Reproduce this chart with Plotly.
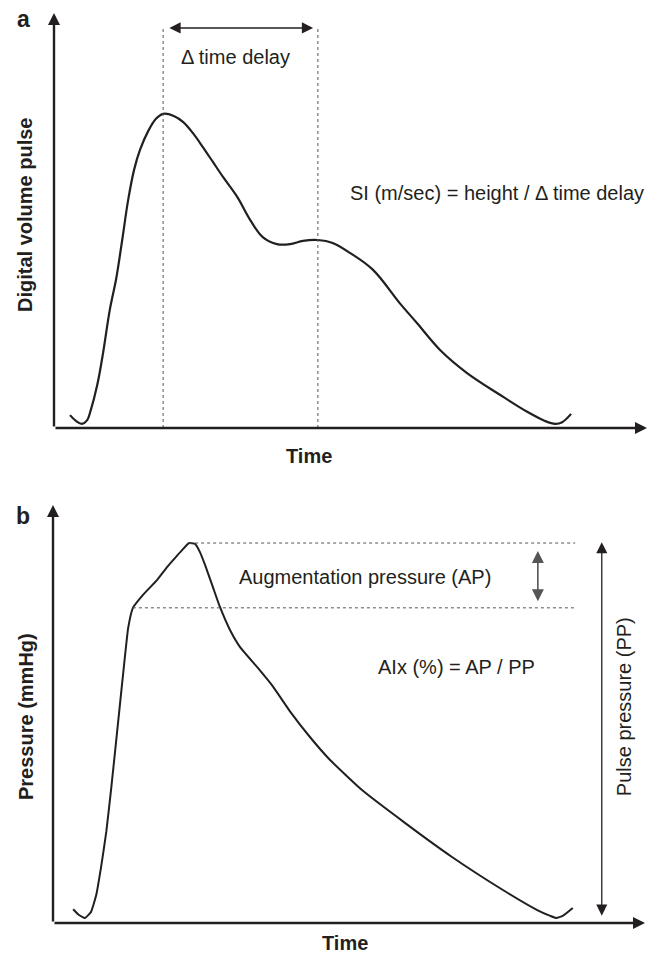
import plotly.graph_objects as go

# ---------------- data ----------------
# Panel a: digital volume pulse (time as fraction of axis, amplitude as fraction of axis)
dvp_time = [0.027, 0.037, 0.047, 0.056, 0.062, 0.073, 0.083, 0.094, 0.105, 0.115,
            0.125, 0.135, 0.145, 0.159, 0.172, 0.184, 0.202, 0.218, 0.234, 0.251,
            0.268, 0.285, 0.309, 0.331, 0.352, 0.376, 0.398, 0.420, 0.445, 0.470,
            0.499, 0.538, 0.583, 0.612, 0.651, 0.696, 0.752, 0.798, 0.828, 0.845,
            0.857, 0.872]
dvp_value = [0.031, 0.017, 0.010, 0.019, 0.043, 0.104, 0.183, 0.284, 0.361, 0.453,
             0.549, 0.622, 0.670, 0.716, 0.745, 0.757, 0.752, 0.737, 0.711, 0.677,
             0.641, 0.605, 0.557, 0.501, 0.460, 0.443, 0.443, 0.451, 0.453, 0.446,
             0.422, 0.381, 0.301, 0.253, 0.188, 0.133, 0.080, 0.039, 0.017, 0.010,
             0.014, 0.034]
dvp_first_peak_t = 0.184
dvp_second_peak_t = 0.445

# Panel b: pressure waveform
pw_time = [0.034, 0.044, 0.054, 0.064, 0.073, 0.081, 0.090, 0.098, 0.106, 0.113,
           0.120, 0.127, 0.135, 0.152, 0.176, 0.193, 0.206, 0.218, 0.230, 0.240,
           0.248, 0.257, 0.270, 0.282, 0.299, 0.316, 0.345, 0.372, 0.400, 0.434,
           0.468, 0.522, 0.595, 0.674, 0.760, 0.818, 0.840, 0.850, 0.861, 0.878]
pw_value = [0.033, 0.019, 0.012, 0.026, 0.067, 0.132, 0.218, 0.318, 0.426, 0.522,
            0.617, 0.706, 0.754, 0.785, 0.821, 0.852, 0.873, 0.892, 0.909, 0.907,
            0.888, 0.856, 0.804, 0.756, 0.701, 0.660, 0.612, 0.565, 0.507, 0.445,
            0.390, 0.318, 0.239, 0.158, 0.079, 0.031, 0.017, 0.012, 0.017, 0.036]
pw_inflection_t, pw_inflection_p = 0.135, 0.754
pw_peak_t, pw_peak_p = 0.230, 0.909
pw_min_p = 0.014

texts_a = {"delay": "Δ time delay", "si": "SI (m/sec) = height / Δ time delay",
           "ylab": "Digital volume pulse", "xlab": "Time", "panel": "a"}
texts_b = {"ap": "Augmentation pressure (AP)", "aix": "AIx (%) = AP / PP",
           "pp": "Pulse pressure (PP)", "ylab": "Pressure (mmHg)", "xlab": "Time", "panel": "b"}

# ---------------- figure ----------------
W, H = 667, 954
INK = "#231f20"
FONT = "Arial, Liberation Sans, sans-serif"

fig = go.Figure()
fig.add_trace(go.Scatter(x=dvp_time, y=dvp_value, mode="lines",
                         line=dict(color=INK, width=2.2, shape="spline", smoothing=1.0),
                         xaxis="x", yaxis="y", hoverinfo="skip"))
fig.add_trace(go.Scatter(x=pw_time, y=pw_value, mode="lines",
                         line=dict(color=INK, width=2.0, shape="spline", smoothing=0.4),
                         xaxis="x2", yaxis="y2", hoverinfo="skip"))

ax_common = dict(range=[0, 1], showgrid=False, zeroline=False, showticklabels=False,
                 showline=False, ticks="", fixedrange=True)
fig.update_layout(
    width=W, height=H, margin=dict(l=0, r=0, t=0, b=0),
    paper_bgcolor="white", plot_bgcolor="rgba(0,0,0,0)", showlegend=False,
    font=dict(family=FONT, color=INK, size=20),
    xaxis=dict(domain=[54 / W, 647 / W], anchor="y", **ax_common),
    yaxis=dict(domain=[1 - 428 / H, 1 - 13 / H], anchor="x", **ax_common),
    xaxis2=dict(domain=[53 / W, 645 / W], anchor="y2", **ax_common),
    yaxis2=dict(domain=[1 - 923 / H, 1 - 505 / H], anchor="x2", **ax_common),
)

ann = []
shapes = []

def arrow(xr, yr, x0, y0, x1, y1, width, size, color=INK, both=False):
    d = dict(xref=xr, yref=yr, axref=xr, ayref=yr, x=x1, y=y1, ax=x0, ay=y0,
             text="", showarrow=True, arrowhead=2, arrowsize=size, arrowwidth=width,
             arrowcolor=color, standoff=0, startstandoff=0)
    if both:
        d.update(arrowside="end+start", startarrowhead=2, startarrowsize=size)
    ann.append(d)

def label(xr, yr, x, y, text, size=20, angle=0):
    ann.append(dict(xref=xr, yref=yr, x=x, y=y, text=text, showarrow=False,
                    xanchor="center", yanchor="middle", textangle=angle,
                    font=dict(size=size)))

# ---- panel a ----
arrow("x", "y", 0, 0, 0, 1, 2.4, 1.0)
arrow("x", "y", 0, 0, 1, 0, 2.4, 1.0)
top_a = 0.964
for t in (dvp_first_peak_t, dvp_second_peak_t):
    shapes.append(dict(type="line", xref="x", yref="y", x0=t, x1=t, y0=0, y1=top_a,
                       line=dict(color="#555", width=1, dash="dot")))
arrow("x", "y", dvp_first_peak_t + 0.008, top_a, dvp_second_peak_t - 0.008, top_a, 1.5, 1.5, both=True)
label("x", "y", 0.306, 0.894, texts_a["delay"])
label("x", "y", 0.747, 0.566, texts_a["si"])
label("paper", "paper", 25 / W, 1 - 215 / H, "<b>" + texts_a["ylab"] + "</b>", angle=-90)
label("paper", "paper", 309 / W, 1 - 456 / H, "<b>" + texts_a["xlab"] + "</b>")
label("paper", "paper", 23 / W, 1 - 19 / H, "<b>" + texts_a["panel"] + "</b>", size=23)

# ---- panel b ----
arrow("x2", "y2", 0, 0, 0, 1, 2.4, 1.0)
arrow("x2", "y2", 0, 0, 1, 0, 2.4, 1.0)
line_end = 0.882
shapes.append(dict(type="line", xref="x2", yref="y2", x0=pw_peak_t, x1=line_end, y0=pw_peak_p, y1=pw_peak_p,
                   line=dict(color="#555", width=1, dash="dot")))
shapes.append(dict(type="line", xref="x2", yref="y2", x0=pw_inflection_t, x1=line_end,
                   y0=pw_inflection_p, y1=pw_inflection_p,
                   line=dict(color="#555", width=1, dash="dot")))
arrow("x2", "y2", 0.819, pw_inflection_p + 0.012, 0.819, pw_peak_p - 0.019, 1.6, 1.5, color="#555", both=True)
arrow("x2", "y2", 0.927, pw_min_p, 0.927, pw_peak_p + 0.002, 1.3, 1.7, both=True)
label("x2", "y2", 0.527, 0.828, texts_b["ap"])
label("x2", "y2", 0.682, 0.612, texts_b["aix"])
label("x2", "y2", 0.965, 0.517, texts_b["pp"], angle=-90)
label("paper", "paper", 26 / W, 1 - 717 / H, "<b>" + texts_b["ylab"] + "</b>", angle=-90)
label("paper", "paper", 345 / W, 1 - 943 / H, "<b>" + texts_b["xlab"] + "</b>")
label("paper", "paper", 23 / W, 1 - 516 / H, "<b>" + texts_b["panel"] + "</b>", size=23)

fig.update_layout(annotations=ann, shapes=shapes)
fig.write_html("out.html", config={"displayModeBar": False})
